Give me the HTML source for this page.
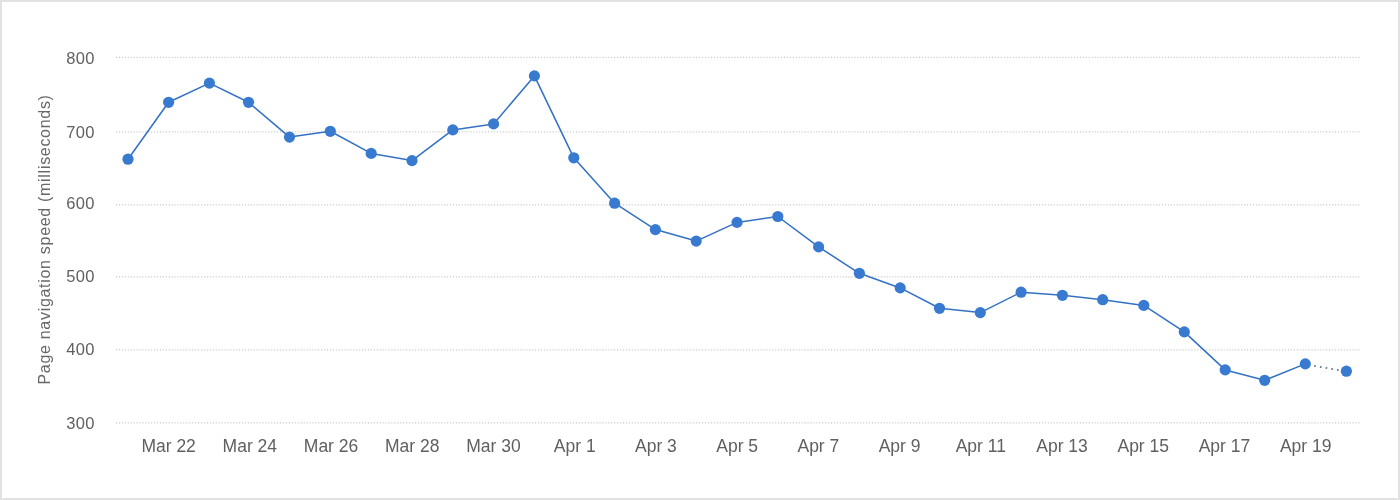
<!DOCTYPE html>
<html><head><meta charset="utf-8"><style>
html,body{margin:0;padding:0;background:#fff;}
body{width:1400px;height:500px;overflow:hidden;position:relative;font-family:"Liberation Sans",sans-serif;}
.frame{position:absolute;left:0;top:0;width:1396px;height:496px;border:2px solid #e2e2e2;}
svg{position:absolute;left:0;top:0;will-change:transform;}
.g{stroke:#c8c8c8;stroke-width:1.2;stroke-dasharray:1.1 1.83;}
.yt{font-size:16.5px;letter-spacing:0.35px;fill:#606060;text-anchor:end;}
.xt{font-size:17.5px;fill:#606060;text-anchor:middle;}
.tt{font-size:16px;fill:#686868;text-anchor:middle;}
</style></head><body>
<div class="frame"></div>
<svg width="1400" height="500" viewBox="0 0 1400 500">
<line x1="116" y1="57.40" x2="1359.5" y2="57.40" class="g"/>
<line x1="116" y1="131.90" x2="1359.5" y2="131.90" class="g"/>
<line x1="116" y1="204.90" x2="1359.5" y2="204.90" class="g"/>
<line x1="116" y1="276.90" x2="1359.5" y2="276.90" class="g"/>
<line x1="116" y1="349.90" x2="1359.5" y2="349.90" class="g"/>
<line x1="116" y1="422.90" x2="1359.5" y2="422.90" class="g"/>
<text x="94.9" y="63.80" class="yt">800</text>
<text x="94.9" y="137.50" class="yt">700</text>
<text x="94.9" y="208.80" class="yt">600</text>
<text x="94.9" y="282.20" class="yt">500</text>
<text x="94.9" y="355.00" class="yt">400</text>
<text x="94.9" y="428.70" class="yt">300</text>
<text x="168.61" y="451.7" class="xt">Mar 22</text>
<text x="249.83" y="451.7" class="xt">Mar 24</text>
<text x="331.05" y="451.7" class="xt">Mar 26</text>
<text x="412.27" y="451.7" class="xt">Mar 28</text>
<text x="493.49" y="451.7" class="xt">Mar 30</text>
<text x="574.71" y="451.7" class="xt">Apr 1</text>
<text x="655.93" y="451.7" class="xt">Apr 3</text>
<text x="737.15" y="451.7" class="xt">Apr 5</text>
<text x="818.37" y="451.7" class="xt">Apr 7</text>
<text x="899.59" y="451.7" class="xt">Apr 9</text>
<text x="980.81" y="451.7" class="xt">Apr 11</text>
<text x="1062.03" y="451.7" class="xt">Apr 13</text>
<text x="1143.25" y="451.7" class="xt">Apr 15</text>
<text x="1224.47" y="451.7" class="xt">Apr 17</text>
<text x="1305.69" y="451.7" class="xt">Apr 19</text>
<text class="tt" transform="translate(50.3,239.8) rotate(-90)" textLength="289.5" lengthAdjust="spacing">Page navigation speed (milliseconds)</text>
<polyline points="128.0,159.2 168.6,102.3 209.4,83.1 248.5,102.3 289.5,137.1 330.3,131.3 371.2,153.4 412.0,160.6 452.8,129.9 493.6,123.9 534.4,75.9 573.8,157.8 614.6,203.2 655.4,229.6 696.2,241.1 737.0,222.4 777.8,216.5 818.6,246.9 859.4,273.3 900.2,287.9 939.5,308.3 980.3,312.6 1021.1,292.2 1062.4,295.3 1102.7,299.7 1143.8,305.4 1184.3,331.9 1225.2,369.9 1264.7,380.3 1305.3,363.9" fill="none" stroke="#3472c4" stroke-width="1.55" stroke-linejoin="round"/>
<polyline points="1305.3,363.9 1346.4,371.2" fill="none" stroke="#5f6f86" stroke-width="1.7" stroke-dasharray="1.6 4.2" stroke-dashoffset="2.75" transform="translate(0.2,0.35)"/>
<g fill="#377ad0"><circle cx="128.0" cy="159.2" r="5.6"/><circle cx="168.6" cy="102.3" r="5.6"/><circle cx="209.4" cy="83.1" r="5.6"/><circle cx="248.5" cy="102.3" r="5.6"/><circle cx="289.5" cy="137.1" r="5.6"/><circle cx="330.3" cy="131.3" r="5.6"/><circle cx="371.2" cy="153.4" r="5.6"/><circle cx="412.0" cy="160.6" r="5.6"/><circle cx="452.8" cy="129.9" r="5.6"/><circle cx="493.6" cy="123.9" r="5.6"/><circle cx="534.4" cy="75.9" r="5.6"/><circle cx="573.8" cy="157.8" r="5.6"/><circle cx="614.6" cy="203.2" r="5.6"/><circle cx="655.4" cy="229.6" r="5.6"/><circle cx="696.2" cy="241.1" r="5.6"/><circle cx="737.0" cy="222.4" r="5.6"/><circle cx="777.8" cy="216.5" r="5.6"/><circle cx="818.6" cy="246.9" r="5.6"/><circle cx="859.4" cy="273.3" r="5.6"/><circle cx="900.2" cy="287.9" r="5.6"/><circle cx="939.5" cy="308.3" r="5.6"/><circle cx="980.3" cy="312.6" r="5.6"/><circle cx="1021.1" cy="292.2" r="5.6"/><circle cx="1062.4" cy="295.3" r="5.6"/><circle cx="1102.7" cy="299.7" r="5.6"/><circle cx="1143.8" cy="305.4" r="5.6"/><circle cx="1184.3" cy="331.9" r="5.6"/><circle cx="1225.2" cy="369.9" r="5.6"/><circle cx="1264.7" cy="380.3" r="5.6"/><circle cx="1305.3" cy="363.9" r="5.6"/><circle cx="1346.4" cy="371.2" r="5.6"/></g>
</svg>
</body></html>
